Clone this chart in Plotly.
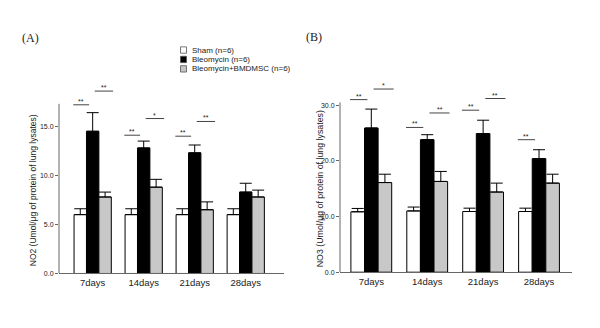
import plotly.graph_objects as go

categories = ["7days", "14days", "21days", "28days"]
group_names = ["Sham (n=6)", "Bleomycin (n=6)", "Bleomycin+BMDMSC (n=6)"]

# Panel A: NO2
no2_sham = [6.0, 6.0, 6.0, 6.0]
no2_sham_err = [0.6, 0.6, 0.6, 0.6]
no2_bleo = [14.5, 12.8, 12.3, 8.3]
no2_bleo_err = [1.9, 0.7, 0.8, 0.9]
no2_bmdmsc = [7.8, 8.8, 6.5, 7.8]
no2_bmdmsc_err = [0.5, 0.8, 0.8, 0.7]
no2_sig1_labels = ["**", "**", "**", None]
no2_sig1_heights = [17.2, 14.1, 14.0, None]
no2_sig2_labels = ["**", "*", "**", None]
no2_sig2_heights = [18.6, 15.8, 15.5, None]
no2_ticks = [0, 5, 10, 15]

# Panel B: NO3
no3_sham = [10.85, 11.0, 10.9, 10.9]
no3_sham_err = [0.6, 0.7, 0.6, 0.6]
no3_bleo = [25.9, 23.8, 24.9, 20.4]
no3_bleo_err = [3.4, 0.9, 2.4, 1.6]
no3_bmdmsc = [16.1, 16.3, 14.4, 16.0]
no3_bmdmsc_err = [1.5, 1.8, 1.6, 1.6]
no3_sig1_labels = ["**", "**", "**", "**"]
no3_sig1_heights = [31.0, 26.0, 29.1, 23.8]
no3_sig2_labels = ["*", "**", "**", None]
no3_sig2_heights = [32.9, 28.6, 31.2, None]
no3_ticks = [0, 10, 20, 30]

fills = ["white", "black", "#c4c4c4"]
patterns = [None, None, dict(shape=".", fgcolor="#9a9a9a", bgcolor="#d2d2d2", size=2, solidity=0.4)]
FONT = "Liberation Sans, Arial, sans-serif"
W, H = 600, 328

fig = go.Figure()

panels = [
    ("x", "y", [no2_sham, no2_bleo, no2_bmdmsc], [no2_sham_err, no2_bleo_err, no2_bmdmsc_err]),
    ("x2", "y2", [no3_sham, no3_bleo, no3_bmdmsc], [no3_sham_err, no3_bleo_err, no3_bmdmsc_err]),
]
for xa, ya, vals, errs in panels:
    for i in range(3):
        marker = dict(color=fills[i], line=dict(color="black", width=1))
        if patterns[i]:
            marker["pattern"] = patterns[i]
        fig.add_trace(go.Bar(
            x=categories, y=vals[i], name=group_names[i],
            xaxis=xa, yaxis=ya, offsetgroup=str(i), showlegend=False,
            marker=marker,
            error_y=dict(type="data", symmetric=False, array=errs[i],
                         arrayminus=[0] * len(errs[i]), color="black",
                         thickness=1, width=6),
        ))

axis_common = dict(showgrid=False, zeroline=False)
fig.update_layout(
    width=W, height=H,
    margin=dict(l=0, r=0, t=0, b=0),
    paper_bgcolor="white", plot_bgcolor="white",
    barmode="group", bargap=0.27, bargroupgap=0,
    font=dict(family=FONT, color="#222"),
    showlegend=False,
    xaxis=dict(domain=[59 / W, 284 / W], range=[-0.66, 3.75], anchor="y",
               showline=True, linecolor="#666", linewidth=1, ticks="",
               tickfont=dict(size=9.5, color="#222"), **axis_common),
    yaxis=dict(domain=[1 - 276 / H, 0.762], range=[0, 20], anchor="x",
               showline=False, ticks="outside", ticklen=3, tickcolor="#666",
               tickvals=no2_ticks, tickformat=".1f",
               tickfont=dict(size=7, color="#222"), **axis_common),
    xaxis2=dict(domain=[340 / W, 572 / W], range=[-0.56, 3.59], anchor="y2",
                showline=True, linecolor="#666", linewidth=1, ticks="",
                tickfont=dict(size=9.5, color="#222"), **axis_common),
    yaxis2=dict(domain=[1 - 274.7 / H, 0.762], range=[0, 35], anchor="x2",
                showline=False, ticks="outside", ticklen=3, tickcolor="#666",
                tickvals=no3_ticks, tickformat=".1f",
                tickfont=dict(size=7, color="#222"), **axis_common),
)

# y axis lines (shortened, as in the original)
fig.add_shape(type="line", xref="x domain", yref="y", x0=0, x1=0, y0=0, y1=17.3,
              line=dict(color="#666", width=1))
fig.add_shape(type="line", xref="x2 domain", yref="y2", x0=0, x1=0, y0=0, y1=30.5,
              line=dict(color="#666", width=1))

# significance markers
L1 = (-0.38, -0.07)
L2 = (0.04, 0.40)
sigsets = [
    ("x", "y", no2_sig1_labels, no2_sig1_heights, L1),
    ("x", "y", no2_sig2_labels, no2_sig2_heights, L2),
    ("x2", "y2", no3_sig1_labels, no3_sig1_heights, L1),
    ("x2", "y2", no3_sig2_labels, no3_sig2_heights, L2),
]
for xa, ya, labels, heights, (o0, o1) in sigsets:
    for ci, (lab, h) in enumerate(zip(labels, heights)):
        if lab is None:
            continue
        fig.add_shape(type="line", xref=xa, yref=ya, x0=ci + o0, x1=ci + o1,
                      y0=h, y1=h, line=dict(color="#444", width=1))
        fig.add_annotation(xref=xa, yref=ya, x=ci + (o0 + o1) / 2, y=h, text=lab,
                           showarrow=False, xanchor="center", yanchor="bottom", yshift=-2,
                           font=dict(size=7, color="#222"))

# manual legend
leg_rows = [50.5, 60, 69.5]
for name, fc, yy in zip(group_names, fills, leg_rows):
    fig.add_shape(type="rect", xref="paper", yref="paper",
                  x0=180.5 / W, x1=186.5 / W, y0=1 - (yy + 3.2) / H, y1=1 - (yy - 3.2) / H,
                  line=dict(color="#555", width=0.8), fillcolor=fc)
    fig.add_annotation(xref="paper", yref="paper", x=189.5 / W, y=1 - yy / H, text=name,
                       showarrow=False, xanchor="left", yanchor="middle",
                       font=dict(size=8, color="#222"))

# y-axis titles
fig.add_annotation(xref="paper", yref="paper", x=33 / W, y=1 - 192 / H,
                   text="NO2 (Umol/μg of protein of lung lysates)", textangle=-90,
                   xanchor="center", yanchor="middle",
                   showarrow=False, font=dict(size=8.5, color="#222"))
fig.add_annotation(xref="paper", yref="paper", x=320 / W, y=1 - 191 / H,
                   text="NO3 (Umol/μg of protein of lung lysates)", textangle=-90,
                   xanchor="center", yanchor="middle",
                   showarrow=False, font=dict(size=8.8, color="#222"))

# panel labels
serif = "Liberation Serif, Times New Roman, serif"
fig.add_annotation(xref="paper", yref="paper", x=30 / W, y=1 - 38 / H, text="(A)",
                   xanchor="center", yanchor="middle",
                   showarrow=False, font=dict(family=serif, size=12, color="#222"))
fig.add_annotation(xref="paper", yref="paper", x=313.5 / W, y=1 - 37 / H, text="(B)",
                   xanchor="center", yanchor="middle",
                   showarrow=False, font=dict(family=serif, size=12, color="#222"))

fig.write_html("out.html", config={"displayModeBar": False},
               post_script="document.body.style.margin='0px';document.body.style.overflow='hidden';")
